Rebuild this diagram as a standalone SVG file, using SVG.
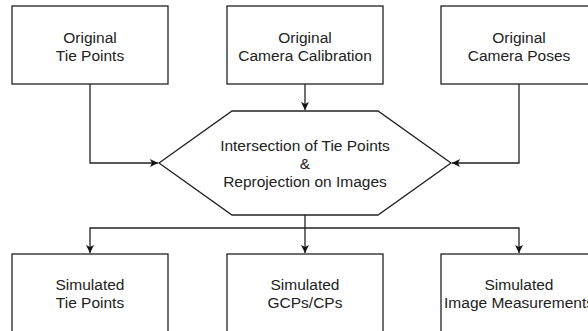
<svg xmlns="http://www.w3.org/2000/svg" width="588" height="331" viewBox="0 0 588 331">
<style>
.box{fill:#fff;stroke:#222;stroke-width:1.3}
.t{font-family:"Liberation Sans",Arial,sans-serif;font-size:15.5px;fill:#222;text-anchor:middle}
.c{fill:none;stroke:#222;stroke-width:1.3}
</style>
<defs>
<marker id="ah" viewBox="0 0 10 10" refX="10" refY="5" markerWidth="8" markerHeight="8" markerUnits="userSpaceOnUse" orient="auto">
<path d="M0,0 L10,5 L0,10 L2.5,5 Z" fill="#111"/>
</marker>
</defs>
<rect width="588" height="331" fill="#fff"/>
<g id="connectors">
<path class="c" d="M90,84 V163 H158" marker-end="url(#ah)"/>
<path class="c" d="M305,84 V110" marker-end="url(#ah)"/>
<path class="c" d="M519,84 V163 H452" marker-end="url(#ah)"/>
<path class="c" d="M305,215 V253" marker-end="url(#ah)"/>
<path class="c" d="M305,228 H90 V253" marker-end="url(#ah)"/>
<path class="c" d="M305,228 H519 V253" marker-end="url(#ah)"/>
</g>
<g id="orig-tie">
<rect class="box" x="12" y="6" width="156" height="78"/>
<text class="t" x="90" y="43">Original</text>
<text class="t" x="90" y="61">Tie Points</text>
</g>
<g id="orig-calib">
<rect class="box" x="227" y="6" width="156" height="78"/>
<text class="t" x="305" y="43">Original</text>
<text class="t" x="305" y="61">Camera Calibration</text>
</g>
<g id="orig-poses">
<rect class="box" x="441" y="6" width="156" height="78"/>
<text class="t" x="519" y="43">Original</text>
<text class="t" x="519" y="61">Camera Poses</text>
</g>
<g id="process">
<polygon class="box" points="159,163 232,111 378,111 451,163 378,215 232,215"/>
<text class="t" x="305" y="151">Intersection of Tie Points</text>
<text class="t" x="305" y="169">&amp;</text>
<text class="t" x="305" y="187">Reprojection on Images</text>
</g>
<g id="sim-tie">
<rect class="box" x="12" y="254" width="156" height="90"/>
<text class="t" x="90" y="290">Simulated</text>
<text class="t" x="90" y="308">Tie Points</text>
</g>
<g id="sim-gcp">
<rect class="box" x="227" y="254" width="156" height="90"/>
<text class="t" x="305" y="290">Simulated</text>
<text class="t" x="305" y="308">GCPs/CPs</text>
</g>
<g id="sim-img">
<rect class="box" x="441" y="254" width="156" height="90"/>
<text class="t" x="519" y="290">Simulated</text>
<text class="t" x="519" y="308">Image Measurements</text>
</g>
</svg>
